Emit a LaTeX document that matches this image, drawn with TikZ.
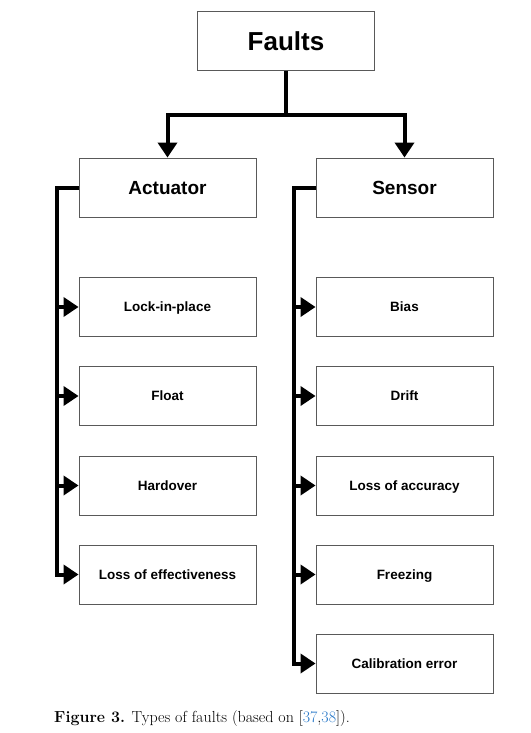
\documentclass[tikz,border=0pt]{standalone}
\usepackage{fontspec}
\newfontfamily\boxfont{Liberation Sans}
\usetikzlibrary{arrows.meta}
\definecolor{citeblue}{RGB}{40,120,200}
\begin{document}
\begin{tikzpicture}[x=1pt, y=1pt,
  box/.style={draw=black!65, line width=0.9pt, fill=white, minimum width=177pt,
    minimum height=59pt, inner sep=0pt, text height=9.7pt, text depth=0pt,
    font=\boxfont\bfseries\fontsize{13.5}{16}\selectfont},
  bigbox/.style={box, text height=13.7pt, font=\boxfont\bfseries\fontsize{19}{22}\selectfont},
  link/.style={line width=4pt, -{Triangle[length=15pt, width=19pt]}}]
\useasboundingbox (0,0) rectangle (530,-733);

\node[box, text height=18.7pt, font=\boxfont\bfseries\fontsize{26}{30}\selectfont] (faults) at (286,-41) {Faults};
\node[bigbox] (act) at (167.5,-187.5) {Actuator};
\node[bigbox] (sen) at (404.5,-187.5) {Sensor};

% actuator faults
\node[box] (lock)  at (167.5,-307) {Lock-in-place};
\node[box] (float) at (167.5,-396) {Float};
\node[box] (hard)  at (167.5,-485.5) {Hardover};
\node[box] (loe)   at (167.5,-574.5) {Loss of effectiveness};

% sensor faults
\node[box] (bias)   at (404.5,-307) {Bias};
\node[box] (drift)  at (404.5,-396) {Drift};
\node[box] (acc)    at (404.5,-485.5) {Loss of accuracy};
\node[box] (freeze) at (404.5,-574.5) {Freezing};
\node[box] (calib)  at (404.5,-663.5) {Calibration error};

\draw[link] (faults.south) -- ++(0,-44) -| (act.north);
\draw[link] (faults.south) -- ++(0,-44) -| (sen.north);

\foreach \n in {lock,float,hard,loe}
  \draw[link] (act.west) -- ++(-22,0) |- (\n.west);
\foreach \n in {bias,drift,acc,freeze,calib}
  \draw[link] (sen.west) -- ++(-22,0) |- (\n.west);

\node[anchor=west, inner sep=0pt, font=\fontsize{16}{18}\selectfont] (caption) at (54,-718)
  {\textbf{Figure 3.} Types of faults (based on [{\color{citeblue}37},{\color{citeblue}38}]).};
\end{tikzpicture}
\end{document}
